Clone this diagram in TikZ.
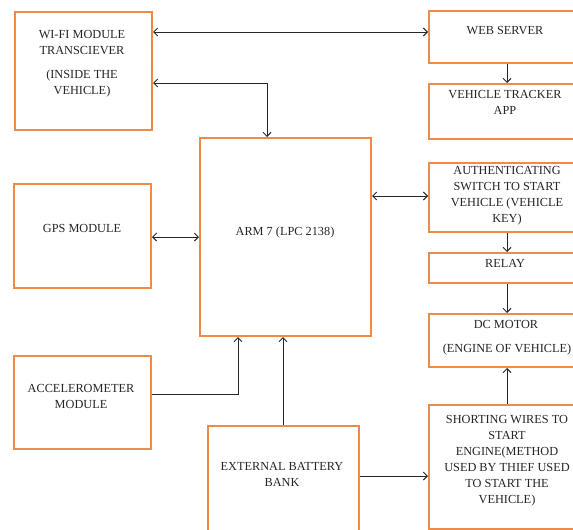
\documentclass[tikz,border=0pt]{standalone}
\usepackage{fontspec}
\setmainfont{Liberation Serif}
\usetikzlibrary{arrows.meta}
\definecolor{boxorange}{RGB}{236,140,72}
\begin{document}
\begin{tikzpicture}[x=1pt,y=-1pt,
  box/.style={draw=boxorange,line width=2pt,inner sep=0pt},
  lbl/.style={font=\fontsize{12.3}{16}\selectfont,align=center,inner sep=0pt,text=black!85},
  conn/.style={draw=black!85,line width=0.9pt,-{Straight Barb[length=4pt,width=8pt]}},
  conn2/.style={draw=black!85,line width=0.9pt,{Straight Barb[length=4pt,width=8pt]}-{Straight Barb[length=4pt,width=8pt]}}]
\useasboundingbox[fill=white] (0,0) rectangle (573,530);
% boxes
\node[box,minimum width=137pt,minimum height=118pt,anchor=north west] (wifi) at (14,11) {};
\node[box,minimum width=147pt,minimum height=52pt,anchor=north west] (web) at (428,10) {};
\node[box,minimum width=147pt,minimum height=55pt,anchor=north west] (tracker) at (428,83) {};
\node[box,minimum width=171pt,minimum height=198pt,anchor=north west] (arm) at (199,137) {};
\node[box,minimum width=137pt,minimum height=104pt,anchor=north west] (gps) at (13,183) {};
\node[box,minimum width=147pt,minimum height=69pt,anchor=north west] (auth) at (428,162) {};
\node[box,minimum width=147pt,minimum height=30pt,anchor=north west] (relay) at (428,252) {};
\node[box,minimum width=147pt,minimum height=53pt,anchor=north west] (dc) at (428,313) {};
\node[box,minimum width=137pt,minimum height=93pt,anchor=north west] (accel) at (13,355) {};
\node[box,minimum width=151pt,minimum height=110pt,anchor=north west] (batt) at (207,425) {};
\node[box,minimum width=147pt,minimum height=124pt,anchor=north west] (short) at (428,404) {};
% texts
\node[lbl] (wifiT) at (82,43) {WI-FI MODULE\\TRANSCIEVER};
\node[lbl] (wifiT2) at (82,84) {(INSIDE THE\\VEHICLE)};
\node[lbl] (webT) at (505,31) {WEB SERVER};
\node[lbl] (trackerT) at (505,102) {VEHICLE TRACKER\\APP};
\node[lbl] (armT) at (285,233) {ARM 7 (LPC 2138)};
\node[lbl] (gpsT) at (82,228) {GPS MODULE};
\node[lbl] (authT) at (507,196) {AUTHENTICATING\\SWITCH TO START\\VEHICLE (VEHICLE\\KEY)};
\node[lbl] (relayT) at (505,263) {RELAY};
\node[lbl] (dcT) at (506,324) {DC MOTOR};
\node[lbl] (dcT2) at (507,350) {(ENGINE OF VEHICLE)};
\node[lbl] (accelT) at (81,396) {ACCELEROMETER\\MODULE};
\node[lbl] (battT) at (282,474) {EXTERNAL BATTERY\\BANK};
\node[lbl] (shortT) at (507,461) {SHORTING WIRES TO\\START\\ENGINE(METHOD\\USED BY THIEF USED\\TO START THE\\VEHICLE)};
% helper coordinates
\coordinate (yA) at (0,32);
\coordinate (yB) at (0,83);
\coordinate (xB) at (267,0);
\coordinate (yG) at (0,237);
\coordinate (yS) at (0,196);
\coordinate (yAc) at (0,394);
\coordinate (xAc) at (238,0);
\coordinate (xBt) at (283,0);
\coordinate (yBt) at (0,476);
\coordinate (xR) at (507,0);
% connectors
\draw[conn2] (wifi.east |- yA) -- (web.west |- yA);
\draw[conn2] (wifi.east |- yB) -- (xB |- yB) -- (xB |- arm.north);
\draw[conn2] (gps.east |- yG) -- (arm.west |- yG);
\draw[conn2] (arm.east |- yS) -- (auth.west |- yS);
\draw[conn] (xR |- web.south) -- (xR |- tracker.north);
\draw[conn] (xR |- auth.south) -- (xR |- relay.north);
\draw[conn] (xR |- relay.south) -- (xR |- dc.north);
\draw[conn] (xR |- short.north) -- (xR |- dc.south);
\draw[conn] (accel.east |- yAc) -- (xAc |- yAc) -- (xAc |- arm.south);
\draw[conn] (xBt |- batt.north) -- (xBt |- arm.south);
\draw[conn] (batt.east |- yBt) -- (short.west |- yBt);
\end{tikzpicture}
\end{document}
